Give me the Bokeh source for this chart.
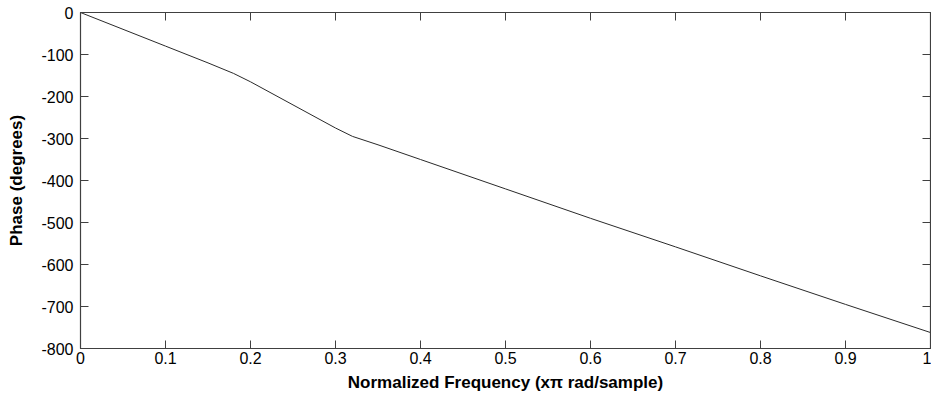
from bokeh.plotting import figure
from bokeh.models import Range1d, LinearAxis, FixedTicker
from bokeh.embed import file_html
from bokeh.resources import INLINE

# Data
freq = [0, 0.05, 0.1, 0.15, 0.18, 0.2, 0.25, 0.3, 0.32, 0.35, 0.4, 0.5, 0.6, 0.7, 0.8, 0.9, 1.0]
phase = [0, -40, -80, -120, -145, -165, -220, -275, -295, -315, -350, -420, -490, -558, -627, -695, -762]

x_ticks = [0, 0.1, 0.2, 0.3, 0.4, 0.5, 0.6, 0.7, 0.8, 0.9, 1.0]
x_tick_labels = ["0", "0.1", "0.2", "0.3", "0.4", "0.5", "0.6", "0.7", "0.8", "0.9", "1"]
y_ticks = [-800, -700, -600, -500, -400, -300, -200, -100, 0]
y_tick_labels = ["-800", "-700", "-600", "-500", "-400", "-300", "-200", "-100", "0"]

FONT = "Liberation Sans"
AX = "#404040"

p = figure(width=931, height=401, output_backend="svg", toolbar_location=None,
           x_range=Range1d(0, 1), y_range=Range1d(-800, 0),
           min_border_left=80, min_border_right=1, min_border_top=12, min_border_bottom=53)
p.background_fill_color = "white"
p.border_fill_color = "white"
p.outline_line_color = AX
p.outline_line_width = 1.2
p.xgrid.visible = False
p.ygrid.visible = False

p.line(freq, phase, line_color="#2a2a2a", line_width=1)


def style(ax, ticks, labels, show_labels=True):
    ax.ticker = FixedTicker(ticks=ticks)
    ax.major_label_overrides = {t: l for t, l in zip(ticks, labels)}
    ax.major_tick_in = 8
    ax.major_tick_out = 0
    ax.minor_tick_in = 0
    ax.minor_tick_out = 0
    ax.axis_line_color = AX
    ax.major_tick_line_color = AX
    ax.major_label_text_font = FONT
    ax.major_label_text_font_size = "16px"
    ax.major_label_text_color = "black" if show_labels else None
    ax.axis_label_text_font = FONT
    ax.axis_label_text_font_size = "17px"
    ax.axis_label_text_font_style = "bold"
    ax.axis_label_text_color = "black"


xa = p.xaxis[0]
style(xa, x_ticks, x_tick_labels)
xa.axis_label = "Normalized Frequency (x\u03c0 rad/sample)"
xa.major_label_standoff = 3
xa.axis_label_standoff = 6

ya = p.yaxis[0]
style(ya, y_ticks, y_tick_labels)
ya.axis_label = "Phase (degrees)"
ya.major_label_standoff = 7
ya.axis_label_standoff = 12

top = LinearAxis()
style(top, x_ticks, x_tick_labels, show_labels=False)
top.major_label_text_font_size = "0px"
top.major_label_standoff = 0
p.add_layout(top, "above")

right = LinearAxis()
style(right, y_ticks, y_tick_labels, show_labels=False)
right.major_label_text_font_size = "0px"
right.major_label_standoff = 0
p.add_layout(right, "right")

open("out.html", "w").write(file_html(p, INLINE))
